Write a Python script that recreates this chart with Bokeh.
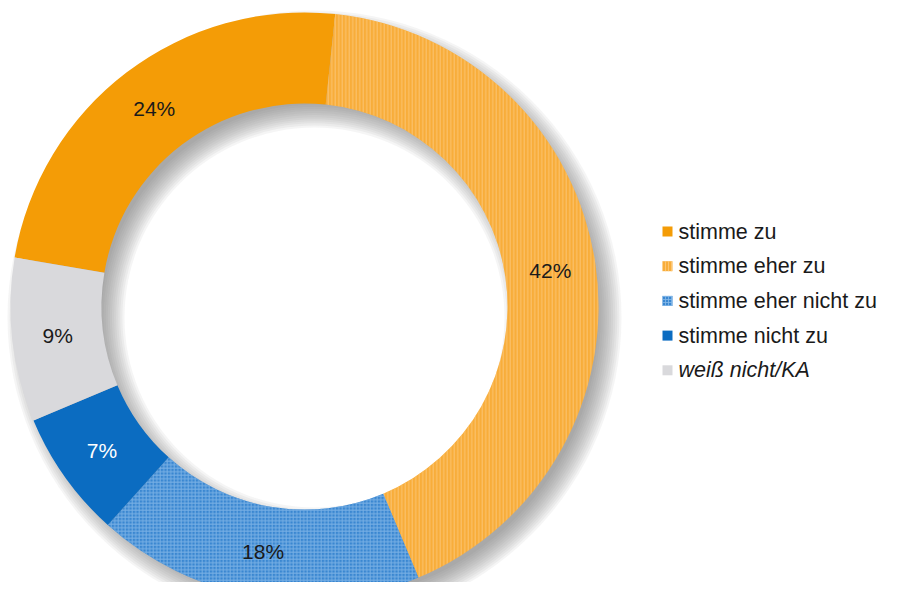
import numpy as np
from bokeh.plotting import figure
from bokeh.models import Range1d
from bokeh.core.properties import value
from bokeh.embed import file_html
from bokeh.resources import INLINE

# ---- data ----
categories = ["stimme zu", "stimme eher zu", "stimme eher nicht zu", "stimme nicht zu", "weiß nicht/KA"]
shares = [24, 42, 18, 7, 9]
labels = ["24%", "42%", "18%", "7%", "9%"]

# ---- style ----
colors = ["#F49C06", "#F8AD3A", "#3A87D1", "#0B6CC1", "#D9D9DC"]
hatch = ["", "vertical_line", "cross", "", ""]
hatch_colors = ["#F49C06", "#FCCB80", "#86B9E8", "#0B6CC1", "#D9D9DC"]
label_colors = ["#1a1a1a", "#1a1a1a", "#1a1a1a", "#ffffff", "#1a1a1a"]

W, H = 885, 582
cx, cy = 304, 276
r_in, r_out = 203, 294
first_angle = 279.6  # degrees clockwise from 12 o'clock

p = figure(width=W, height=H, output_backend="svg", toolbar_location=None,
           x_range=Range1d(0, W), y_range=Range1d(0, H), min_border=0)
p.axis.visible = False
p.grid.visible = False
p.outline_line_color = None
p.background_fill_color = "white"

# soft drop shadow (down-right)
for s in np.linspace(-10, 13, 12):
    p.annular_wedge(x=cx + 10, y=cy - 11, inner_radius=max(r_in - s, 0), outer_radius=r_out + s,
                    start_angle=0, end_angle=2 * np.pi, fill_color="#6c6c78", fill_alpha=0.07,
                    line_color=None)

total = float(sum(shares))
cum = first_angle
for i, (cat, v) in enumerate(zip(categories, shares)):
    span = 360.0 * v / total
    t1, t2 = cum, cum + span
    start = np.deg2rad(90 - t2)
    end = np.deg2rad(90 - t1)
    kw = {}
    if hatch[i]:
        kw = dict(hatch_pattern=hatch[i], hatch_color=hatch_colors[i], hatch_scale=3.5,
                  hatch_weight=1.0, hatch_alpha=0.8)
    p.annular_wedge(x=cx, y=cy, inner_radius=r_in, outer_radius=r_out,
                    start_angle=start, end_angle=end, fill_color=colors[i],
                    line_color=None, **kw)
    mid = np.deg2rad(90 - (t1 + t2) / 2)
    rm = (r_in + r_out) / 2
    p.text(x=[cx + rm * np.cos(mid)], y=[cy + rm * np.sin(mid)], text=[labels[i]],
           text_align="center", text_baseline="middle", text_font=value("Liberation Sans"),
           text_font_size="21px", text_color=label_colors[i])
    cum = t2

# legend
lx, ly0, dy = 667, 351, 34.7
for i, cat in enumerate(categories):
    yy = ly0 - i * dy
    kw = {}
    if hatch[i]:
        kw = dict(hatch_pattern=hatch[i], hatch_color=hatch_colors[i], hatch_scale=3,
                  hatch_weight=1.0, hatch_alpha=0.8)
    p.rect(x=[lx], y=[yy], width=10, height=10, fill_color=colors[i], line_color=None, **kw)
    p.text(x=[lx + 11], y=[yy], text=[cat], text_baseline="middle",
           text_font=value("Liberation Sans"), text_font_size="21.5px",
           text_font_style="italic" if i == 4 else "normal", text_color="#1a1a1a")

open("out.html", "w").write(file_html(p, INLINE))
